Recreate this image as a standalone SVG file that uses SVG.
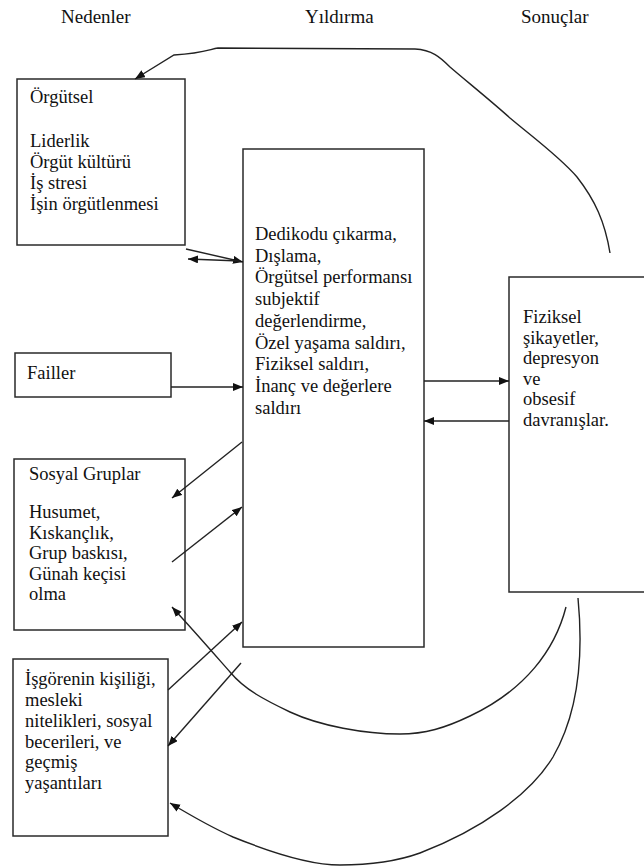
<svg xmlns="http://www.w3.org/2000/svg" width="644" height="866" viewBox="0 0 644 866">
<style>
.box{fill:#fff;stroke:#2a2a2a;stroke-width:1.5}
.t{font-family:'Liberation Serif','Times New Roman',Times,'DejaVu Serif',serif;font-size:18.5px;fill:#111}
.h{font-family:'Liberation Serif','Times New Roman',Times,'DejaVu Serif',serif;font-size:19px;fill:#111}
.c{fill:none;stroke:#222;stroke-width:1.4}
</style>
<defs>
<marker id="ah" markerUnits="userSpaceOnUse" markerWidth="11" markerHeight="9" refX="10" refY="4" orient="auto">
<path d="M0,0 L10,4 L0,8 z" fill="#111"/>
</marker>
</defs>
<rect width="644" height="866" fill="#fff"/>
<g id="headers">
<text class="h" x="61" y="23">Nedenler</text>
<text class="h" x="305" y="23">Yıldırma</text>
<text class="h" x="521" y="23">Sonuçlar</text>
</g>
<g id="orgutsel">
<rect class="box" x="17" y="79" width="168" height="166"/>
<text class="t" x="30" y="103">Örgütsel</text>
<text class="t" x="30" y="147">Liderlik</text>
<text class="t" x="30" y="168">Örgüt kültürü</text>
<text class="t" x="30" y="189">İş stresi</text>
<text class="t" x="30" y="210">İşin örgütlenmesi</text>
</g>
<g id="failler">
<rect class="box" x="15" y="353" width="156" height="44"/>
<text class="t" x="27" y="379">Failler</text>
</g>
<g id="sosyal">
<rect class="box" x="14" y="459" width="171" height="171"/>
<text class="t" x="29" y="480">Sosyal Gruplar</text>
<text class="t" x="29" y="518">Husumet,</text>
<text class="t" x="29" y="538.5">Kıskançlık,</text>
<text class="t" x="29" y="559">Grup baskısı,</text>
<text class="t" x="29" y="579.5">Günah keçisi</text>
<text class="t" x="29" y="600">olma</text>
</g>
<g id="isgoren">
<rect class="box" x="13" y="659" width="155" height="177"/>
<text class="t" x="25" y="685">İşgörenin kişiliği,</text>
<text class="t" x="25" y="706">mesleki</text>
<text class="t" x="25" y="727">nitelikleri, sosyal</text>
<text class="t" x="25" y="748">becerileri, ve</text>
<text class="t" x="25" y="768">geçmiş</text>
<text class="t" x="25" y="789">yaşantıları</text>
</g>
<g id="yildirma">
<rect class="box" x="243" y="149" width="181" height="498"/>
<text class="t" x="255" y="240">Dedikodu çıkarma,</text>
<text class="t" x="255" y="261.7">Dışlama,</text>
<text class="t" x="255" y="283.4">Örgütsel performansı</text>
<text class="t" x="255" y="305.1">subjektif</text>
<text class="t" x="255" y="326.8">değerlendirme,</text>
<text class="t" x="255" y="348.5">Özel yaşama saldırı,</text>
<text class="t" x="255" y="370.2">Fiziksel saldırı,</text>
<text class="t" x="255" y="391.9">İnanç ve değerlere</text>
<text class="t" x="255" y="413.6">saldırı</text>
</g>
<g id="sonuclar">
<rect class="box" x="509" y="277" width="150" height="315"/>
<text class="t" x="523" y="323">Fiziksel</text>
<text class="t" x="523" y="343.6">şikayetler,</text>
<text class="t" x="523" y="364.2">depresyon</text>
<text class="t" x="523" y="384.8">ve</text>
<text class="t" x="523" y="405.4">obsesif</text>
<text class="t" x="523" y="426">davranışlar.</text>
</g>
<g id="connectors">
<path class="c" marker-end="url(#ah)" d="M610,253 C605,222 595,200 577,177 C560,157 530,135 510,118 C490,100 465,80 450,67 C440,57 432,50 415,49 L218,48 C210,49 205,53 174,55 L135,79"/>
<path class="c" marker-end="url(#ah)" d="M186,249 L243,262"/>
<path class="c" marker-end="url(#ah)" d="M240,261 L188,259"/>
<path class="c" marker-end="url(#ah)" d="M171,387 L243,387"/>
<path class="c" marker-end="url(#ah)" d="M424,381 L509,381"/>
<path class="c" marker-end="url(#ah)" d="M509,421 L424,421"/>
<path class="c" marker-end="url(#ah)" d="M242,442 L172,498"/>
<path class="c" marker-end="url(#ah)" d="M172,562 L242,507"/>
<path class="c" marker-end="url(#ah)" d="M168,690 L242,622"/>
<path class="c" marker-end="url(#ah)" d="M241,663 L168,746"/>
<path class="c" marker-end="url(#ah)" d="M566,607 C555,650 525,690 470,716 C445,728 425,734 400,734 C365,734 320,726 290,712 C265,700 245,690 230,672 C215,655 195,632 172,607"/>
<path class="c" marker-end="url(#ah)" d="M578,598 C583,650 580,710 553,757 C530,795 480,830 420,853 C395,862 370,865 340,865 C310,865 270,852 233,837 C215,829 195,818 170,803"/>
</g>
</svg>
